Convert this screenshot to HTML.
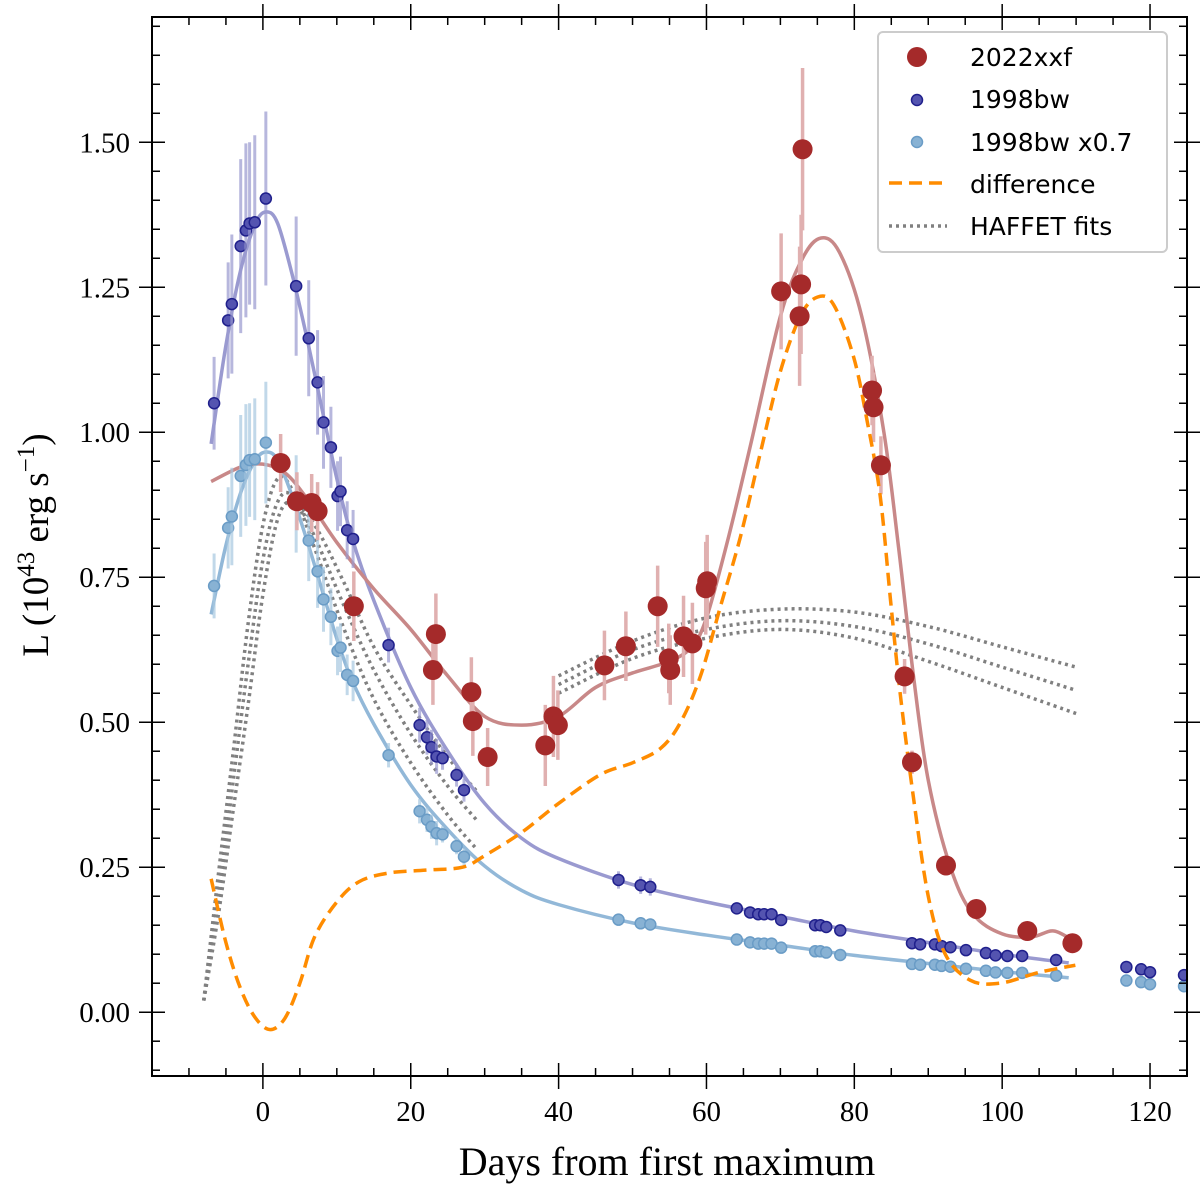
<!DOCTYPE html>
<html><head><meta charset="utf-8"><style>
body{margin:0;background:#fff;}
svg{display:block;}
.tk{font-family:"Liberation Serif",serif;font-size:29px;fill:#000;}
.lg{font-family:"DejaVu Sans","Liberation Sans",sans-serif;font-size:25px;fill:#000;}
</style></head><body>
<svg id="chart" width="1200" height="1192" viewBox="0 0 1200 1192" xmlns="http://www.w3.org/2000/svg"></svg>
<script>
// ---- data ----
const bwDays=[-6.6,-4.7,-4.2,-3.0,-2.3,-1.8,-1.1,0.4,4.5,6.2,7.4,8.2,9.2,10.1,10.5,11.4,12.2,17.0,21.2,22.2,22.8,23.5,24.3,26.2,27.2,48.1,51.1,52.4,64.1,65.9,67.0,67.8,68.8,70.1,74.7,75.4,76.2,78.1,87.8,88.9,90.9,91.8,93.0,95.1,97.8,99.1,100.7,102.7,107.3,116.8,118.8,120.0,124.6];
const bwL=[1.050,1.193,1.221,1.321,1.348,1.360,1.362,1.403,1.252,1.162,1.086,1.017,0.974,0.890,0.898,0.831,0.816,0.633,0.495,0.474,0.457,0.441,0.438,0.409,0.383,0.228,0.219,0.216,0.179,0.172,0.169,0.169,0.169,0.159,0.150,0.150,0.147,0.141,0.119,0.117,0.117,0.114,0.112,0.107,0.102,0.098,0.097,0.097,0.090,0.078,0.074,0.069,0.064];
const bwErr=[0.08,0.1,0.12,0.15,0.15,0.14,0.15,0.15,0.12,0.1,0.09,0.08,0.07,0.06,0.06,0.05,0.05,0.03,0.03,0.03,0.03,0.03,0.02,0.02,0.02,0.015,0.015,0.015,0.01,0.01,0.01,0.01,0.01,0.01,0.01,0.01,0.01,0.01,0.01,0.01,0.01,0.01,0.01,0.01,0.01,0.01,0.01,0.01,0.01,0.01,0.01,0.01,0.01];
const scaleFactor=0.7;
const xxfDays=[2.4,4.6,6.6,7.4,12.3,23.0,23.4,28.2,28.4,30.4,38.2,39.3,39.9,46.2,49.1,53.4,54.9,55.1,56.9,58.1,59.9,60.1,70.1,72.8,72.6,73.0,82.4,82.6,83.6,86.8,87.8,92.4,96.5,103.4,109.5];
const xxfL=[0.947,0.881,0.878,0.864,0.700,0.590,0.652,0.552,0.502,0.440,0.460,0.510,0.495,0.598,0.631,0.700,0.610,0.590,0.648,0.636,0.731,0.743,1.243,1.255,1.200,1.488,1.072,1.043,0.943,0.579,0.431,0.253,0.178,0.140,0.119];
const xxfErr=[0.05,0.05,0.05,0.05,0.06,0.06,0.07,0.06,0.06,0.05,0.07,0.07,0.06,0.06,0.06,0.07,0.06,0.06,0.07,0.07,0.08,0.08,0.1,0.12,0.12,0.14,0.06,0.06,0.05,0.03,0.02,0.01,0.01,0.01,0.01];
const xxfFitDays=[-7,-3,0,3,6,10,15,20,25,30,35,40,45,50,55,58,60,63,66,70,73,75.5,78,81,84,86,88,90,93,96,100,104,107,110];
const xxfFitL=[0.915,0.94,0.945,0.93,0.885,0.81,0.73,0.66,0.58,0.51,0.495,0.51,0.56,0.585,0.605,0.63,0.68,0.82,0.98,1.2,1.3,1.335,1.31,1.2,1.0,0.8,0.58,0.4,0.25,0.17,0.135,0.13,0.14,0.12];
const bwFitDays=[-7,-5,-3,-1,0.5,2,4,6,8,10,12,15,20,25,30,35,40,50,60,70,80,90,100,109];
const bwFitL=[0.98,1.15,1.28,1.36,1.38,1.36,1.27,1.16,1.04,0.92,0.82,0.71,0.56,0.45,0.36,0.30,0.265,0.22,0.19,0.165,0.14,0.12,0.10,0.085];
const diffDays=[-7,-5,-3,-1,1,3,5,7,10,13,17,22,27,30,35,40,45.7,50,53.8,56.5,59.2,61.9,64.6,67.3,70.0,72.7,75,77.2,79.9,81.8,83.5,84.9,86.2,88.0,90.0,92.3,95.7,99.7,105.1,109.9];
const diffL=[0.23,0.12,0.04,-0.01,-0.03,-0.01,0.05,0.13,0.19,0.225,0.24,0.245,0.25,0.27,0.31,0.36,0.41,0.43,0.455,0.50,0.58,0.70,0.82,0.965,1.105,1.20,1.233,1.22,1.13,1.015,0.89,0.71,0.55,0.37,0.2,0.1,0.055,0.05,0.069,0.081];
const hf1Days=[-8,-6,-4,-2,0,2,4,7,11,15,20,25,29];
const hfA=[0.02,0.24,0.45,0.67,0.84,0.92,0.9,0.8,0.66,0.54,0.43,0.34,0.28];
const hfB=[0.02,0.2,0.4,0.6,0.78,0.88,0.89,0.82,0.7,0.59,0.48,0.39,0.33];
const hfC=[0.02,0.17,0.35,0.53,0.72,0.85,0.88,0.84,0.74,0.63,0.53,0.44,0.38];
const hf2Days=[40,50,60,70,80,90,100,110];
const hfD=[0.58,0.64,0.68,0.695,0.69,0.665,0.63,0.595];
const hfE=[0.565,0.625,0.66,0.675,0.665,0.635,0.595,0.555];
const hfF=[0.55,0.61,0.645,0.66,0.645,0.605,0.56,0.515];
const xTicks=[0,20,40,60,80,100,120];
const yTicks=[0.00,0.25,0.50,0.75,1.00,1.25,1.50];
const yTickLabels=["0.00","0.25","0.50","0.75","1.00","1.25","1.50"];

// ---- axes ----
const L=152,R=1187,T=17,B=1076,xmin=-15,xmax=125,ymin=-0.11,ymax=1.716;
const X=d=>L+(d-xmin)/(xmax-xmin)*(R-L);
const Y=v=>B-(v-ymin)/(ymax-ymin)*(B-T);
const svg=document.getElementById('chart');
const NS='http://www.w3.org/2000/svg';
function mk(tag,attrs,parent){const e=document.createElementNS(NS,tag);for(const k in attrs)e.setAttribute(k,attrs[k]);(parent||svg).appendChild(e);return e;}
function smooth(xs,ys){const p=xs.map((d,i)=>[X(d),Y(ys[i])]);let s=`M${p[0][0]},${p[0][1]}`;for(let i=0;i<p.length-1;i++){const p0=p[Math.max(0,i-1)],p1=p[i],p2=p[i+1],p3=p[Math.min(p.length-1,i+2)];s+=` C${p1[0]+(p2[0]-p0[0])/6},${p1[1]+(p2[1]-p0[1])/6} ${p2[0]-(p3[0]-p1[0])/6},${p2[1]-(p3[1]-p1[1])/6} ${p2[0]},${p2[1]}`;}return s;}
const clip=mk('clipPath',{id:'pc'});mk('rect',{x:L,y:T,width:R-L,height:B-T},clip);
const plot=mk('g',{'clip-path':'url(#pc)'});



// HAFFET fits
[hfA,hfB,hfC].forEach((arr,i)=>{const p=mk('path',{d:smooth(hf1Days,arr),fill:'none',stroke:'#808080','stroke-width':3.5,'stroke-dasharray':'3 4'},plot);

});
[hfD,hfE,hfF].forEach((arr,i)=>{const p=mk('path',{d:smooth(hf2Days,arr),fill:'none',stroke:'#808080','stroke-width':3.5,'stroke-dasharray':'3 4'},plot);

});

// fit curves
const c1=mk('path',{d:smooth(bwFitDays,bwFitL),fill:'none',stroke:'#9a9ad0','stroke-width':3.5},plot);


const c2=mk('path',{d:smooth(bwFitDays,bwFitL.map(v=>v*scaleFactor)),fill:'none',stroke:'#92b8d8','stroke-width':3.5},plot);


const c3=mk('path',{d:smooth(xxfFitDays,xxfFitL),fill:'none',stroke:'#c88888','stroke-width':3.5},plot);



// 1998bw points
bwDays.forEach((d,i)=>{
 const e=mk('line',{x1:X(d),x2:X(d),y1:Y(bwL[i]-bwErr[i]),y2:Y(bwL[i]+bwErr[i]),stroke:'#9a9ad0','stroke-width':3,opacity:0.7},plot);
 
 
 const s=scaleFactor;
 const e2=mk('line',{x1:X(d),x2:X(d),y1:Y((bwL[i]-bwErr[i])*s),y2:Y((bwL[i]+bwErr[i])*s),stroke:'#a8c8e0','stroke-width':3,opacity:0.7},plot);
 
 
 const c=mk('circle',{cx:X(d),cy:Y(bwL[i]*s),r:5.5,fill:'#88b2d4',stroke:'#6a9cc6','stroke-width':1.5},plot);
 
 
 const c2=mk('circle',{cx:X(d),cy:Y(bwL[i]),r:5.5,fill:'#5454b0',stroke:'#20208c','stroke-width':1.5},plot);
 
 
});

// 2022xxf
xxfDays.forEach((d,i)=>{
 const e=mk('line',{x1:X(d),x2:X(d),y1:Y(xxfL[i]-xxfErr[i]),y2:Y(xxfL[i]+xxfErr[i]),stroke:'#e0b0b0','stroke-width':3.5},plot);
 
 
});
// difference
const df=mk('path',{d:smooth(diffDays,diffL),fill:'none',stroke:'#ff8c00','stroke-width':3.5,'stroke-dasharray':'13 7'},plot);


xxfDays.forEach((d,i)=>{
 const c=mk('circle',{cx:X(d),cy:Y(xxfL[i]),r:10,fill:'#a52a2a'},plot);
 
 
});

// frame & ticks
const fr=mk('rect',{x:L,y:T,width:R-L,height:B-T,fill:'none',stroke:'#000','stroke-width':2});


for(let d=-10;d<=125;d+=5){const major=d%20===0;const len=major?13:8;
 mk('line',{x1:X(d),x2:X(d),y1:B-len,y2:B+(major?13:0),stroke:'#000','stroke-width':1.5});
 mk('line',{x1:X(d),x2:X(d),y1:T+len,y2:T-(major?13:0),stroke:'#000','stroke-width':1.5});}
for(let k=-2;k<=34;k++){const v=k*0.05;if(v<ymin||v>ymax)continue;const major=k%5===0;const len=major?13:8;
 mk('line',{x1:L-(major?13:0),x2:L+len,y1:Y(v),y2:Y(v),stroke:'#000','stroke-width':1.5});
 mk('line',{x1:R+(major?13:0),x2:R-len,y1:Y(v),y2:Y(v),stroke:'#000','stroke-width':1.5});}
xTicks.forEach(d=>{const t=mk('text',{x:X(d),y:1121,'text-anchor':'middle',class:'tk'});t.textContent=d;
 
 });
yTicks.forEach((v,i)=>{const t=mk('text',{x:130,y:Y(v)+10,'text-anchor':'end',class:'tk'});t.textContent=yTickLabels[i];
 
 });
</script>
<svg style="position:absolute;left:0;top:0" width="1200" height="1192">
<text x="667" y="1175" text-anchor="middle" style="font-family:'Liberation Serif',serif;font-size:40px">Days from first maximum</text>
<text transform="translate(48,545) rotate(-90)" text-anchor="middle" style="font-family:'Liberation Serif',serif;font-size:37px">L (10<tspan dy="-14" font-size="25">43</tspan><tspan dy="14"> erg s</tspan><tspan dy="-14" font-size="25">−1</tspan><tspan dy="14">)</tspan></text>
<g>
<rect x="878" y="32" width="289" height="220" rx="5" fill="#fff" fill-opacity="0.85" stroke="#ccc" stroke-width="2"/>
<circle cx="917" cy="57" r="10" fill="#a52a2a"/>
<text class="lg" x="970" y="66">2022xxf</text>
<circle cx="917" cy="100" r="5.5" fill="#5454b0" stroke="#20208c" stroke-width="1.5"/>
<text class="lg" x="970" y="108">1998bw</text>
<circle cx="917" cy="142" r="5.5" fill="#88b2d4" stroke="#6a9cc6" stroke-width="1.5"/>
<text class="lg" x="970" y="151">1998bw x0.7</text>
<line x1="889" x2="947" y1="183" y2="183" stroke="#ff8c00" stroke-width="3.5" stroke-dasharray="13 7"/>
<text class="lg" x="970" y="193">difference</text>
<line x1="889" x2="947" y1="226" y2="226" stroke="#808080" stroke-width="3.5" stroke-dasharray="3 4"/>
<text class="lg" x="970" y="235">HAFFET fits</text>
</g>
</svg>
</body></html>
